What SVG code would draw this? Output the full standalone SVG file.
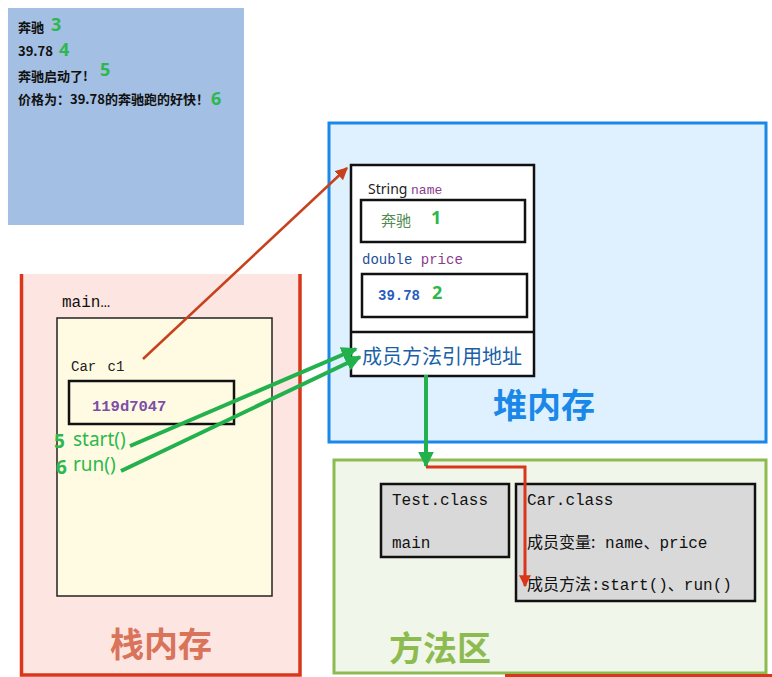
<svg xmlns="http://www.w3.org/2000/svg" width="772" height="677" viewBox="0 0 772 677">
<defs>
<style>
.cjk{font-family:"Noto Sans CJK SC","Noto Sans",sans-serif}
.mono{font-family:"Liberation Mono","DejaVu Sans Mono","Noto Sans CJK SC",monospace}
.num{font-family:"Noto Sans","Liberation Sans",sans-serif;font-weight:bold;fill:#2db84d}
.box{stroke:#111;stroke-width:2.5}
.green{stroke:#22b14c;stroke-width:4;fill:none}
.red{stroke:#c8411e;stroke-width:2.5;fill:none}
</style>
<marker id="ar" viewBox="0 0 10 10" refX="9" refY="5" markerWidth="5" markerHeight="5" orient="auto-start-reverse" markerUnits="strokeWidth"><path d="M0,0 L10,5 L0,10 z" fill="#c8411e"/></marker>
<marker id="ag" viewBox="0 0 10 10" refX="9" refY="5" markerWidth="4" markerHeight="4" orient="auto-start-reverse" markerUnits="strokeWidth"><path d="M0,0 L10,5 L0,10 z" fill="#22b14c"/></marker>
<marker id="ar2" viewBox="0 0 10 10" refX="9" refY="5" markerWidth="4" markerHeight="4" orient="auto-start-reverse" markerUnits="strokeWidth"><path d="M0,0 L10,5 L0,10 z" fill="#d9361a"/></marker>
</defs>
<rect width="772" height="677" fill="#ffffff"/>

<g id="console">
<rect x="8" y="8" width="236" height="217" fill="#a3bfe3"/>
<g class="cjk" font-size="13" font-weight="bold" fill="#111">
<text x="18" y="32">奔驰</text>
<text x="18" y="56">39.78</text>
<text x="18" y="81">奔驰启动了!</text>
<text x="18" y="104">价格为：39.78的奔驰跑的好快！</text>
</g>
<g class="num" font-size="18">
<text x="51" y="31">3</text>
<text x="59" y="56">4</text>
<text x="100" y="76">5</text>
<text x="211" y="105">6</text>
</g>
</g>

<g id="stack">
<rect x="20" y="274" width="281" height="401" fill="#fde6e1"/>
<path d="M21.5,274 V675 H300 V274" fill="none" stroke="#d9361a" stroke-width="3.5"/>
<text x="62" y="307" class="mono" font-size="16" fill="#111">main…</text>
<rect x="57" y="318" width="215" height="278" fill="#fffbe2" stroke="#222" stroke-width="1.5"/>
<text x="110" y="657" class="cjk" font-size="34" font-weight="bold" fill="#d9735a">栈内存</text>
</g>

<g id="var-c1">
<text x="71" y="371" class="mono" font-size="14" fill="#222">Car <tspan dx="3">c1</tspan></text>
<rect x="69" y="381" width="165" height="43" fill="none" class="box" stroke-width="2"/>
<text x="92" y="411" class="mono" font-size="15.5" font-weight="bold" fill="#7b4ea8">119d7047</text>
<text x="73" y="446" font-family="Noto Sans,Liberation Sans,sans-serif" font-size="19" fill="#2db84d">start()</text>
<text x="73" y="471" font-family="Noto Sans,Liberation Sans,sans-serif" font-size="19" fill="#2db84d">run()</text>
<text x="54" y="448" class="num" font-size="19">5</text>
<text x="56" y="474" class="num" font-size="19">6</text>
</g>

<g id="heap">
<rect x="329" y="123" width="437" height="319" fill="#dff0fe" stroke="#1a88e8" stroke-width="3"/>
<text x="493" y="418" class="cjk" font-size="34" font-weight="bold" fill="#1a88e8">堆内存</text>
</g>

<g id="car-object">
<rect x="351" y="165" width="183" height="211" fill="#ffffff" class="box"/>
<line x1="351" y1="332" x2="534" y2="332" class="box"/>
<text x="368" y="194" font-family="Noto Sans,Liberation Sans,sans-serif" font-size="14" fill="#222">String <tspan class="mono" font-size="13" fill="#8a3c8c">name</tspan></text>
<rect x="361" y="200" width="164" height="42" fill="none" class="box" stroke-width="2"/>
<text x="381" y="226" class="cjk" font-size="15" fill="#4f8b4f">奔驰</text>
<text x="431" y="224" class="num" font-size="18">1</text>
<text x="362" y="264" class="mono" font-size="14" fill="#1e4e9a">double <tspan fill="#8a3c8c">price</tspan></text>
<rect x="362" y="274" width="165" height="43" fill="none" class="box" stroke-width="2"/>
<text x="378" y="300" class="mono" font-size="14" font-weight="bold" fill="#2a5cc0">39.78</text>
<text x="432" y="299" class="num" font-size="18">2</text>
<text x="362" y="364" class="cjk" font-size="20" fill="#1a5fa8">成员方法引用地址</text>
</g>

<g id="method-area">
<rect x="334" y="460" width="432" height="213" fill="#f1f6ea" stroke="#8dbb50" stroke-width="3"/>
<text x="389" y="661" class="cjk" font-size="34" font-weight="bold" fill="#8dbb50">方法区</text>
</g>

<g id="test-class">
<rect x="381" y="484" width="128" height="73" fill="#d9d9d9" class="box" stroke-width="2"/>
<text x="392" y="505" class="mono" font-size="16" fill="#111">Test.class</text>
<text x="392" y="548" class="mono" font-size="16" fill="#111">main</text>
</g>

<g id="car-class">
<rect x="516" y="484" width="239" height="117" fill="#d9d9d9" class="box" stroke-width="2"/>
<text x="527" y="505" class="mono" font-size="16" fill="#111">Car.class</text>
<text x="527" y="548" class="mono" font-size="16" fill="#111"><tspan class="cjk">成员变量:</tspan> name、price</text>
<text x="527" y="590" class="mono" font-size="16" fill="#111"><tspan class="cjk">成员方法</tspan>:start()、run()</text>
</g>

<rect x="505" y="674" width="267" height="3" fill="#d9361a"/>

<g id="connectors">
<line x1="143" y1="359" x2="347" y2="168" class="red" marker-end="url(#ar)"/>
<line x1="130" y1="446" x2="356" y2="349" class="green" marker-end="url(#ag)"/>
<line x1="121" y1="471" x2="360" y2="357" class="green" marker-end="url(#ag)"/>
<line x1="426" y1="375" x2="426" y2="466" class="green" marker-end="url(#ag)"/>
<polyline points="426,467 525,467 525,586" stroke="#d9361a" stroke-width="3" fill="none" marker-end="url(#ar2)"/>
</g>
</svg>
